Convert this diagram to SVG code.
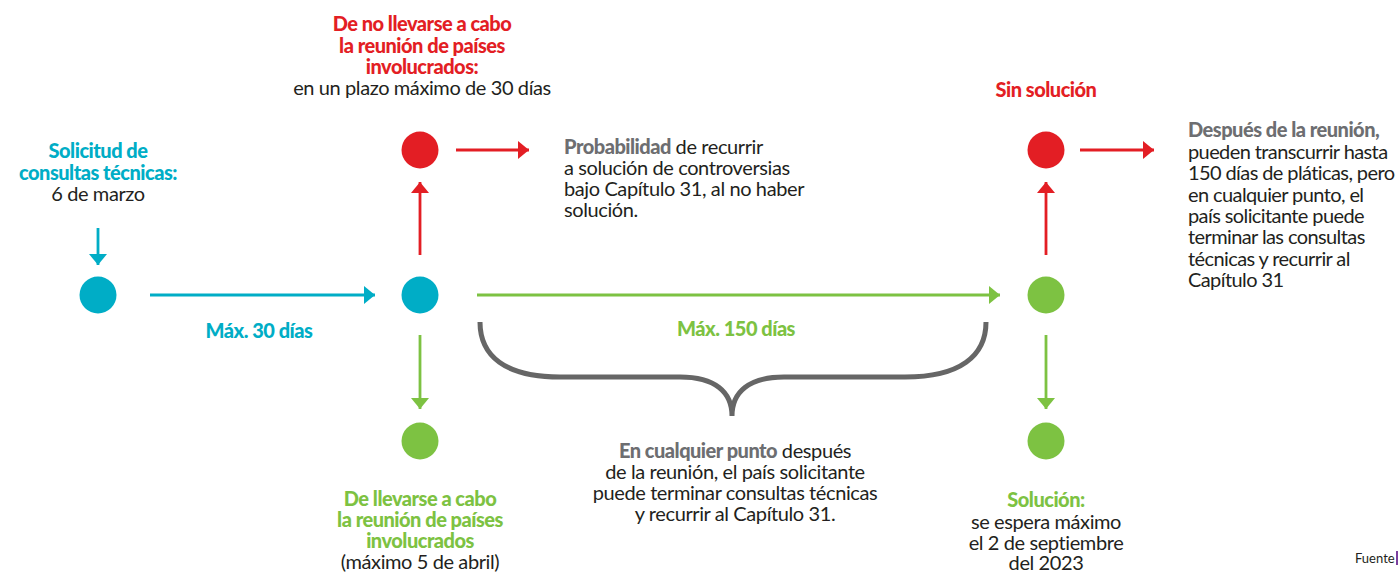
<svg xmlns="http://www.w3.org/2000/svg" width="1400" height="574" viewBox="0 0 1400 574">
<defs>
<style>
text{font-family:Lato,"Open Sans","Liberation Sans",sans-serif;font-size:20px;fill:#231f20;letter-spacing:-0.4px}
.b{font-weight:900;letter-spacing:-0.5px}
.c{fill:#00adc6}.r{fill:#e31e24}.g{fill:#7dc242}.k{fill:#6d6e71}
.m{text-anchor:middle}
.t{letter-spacing:-0.6px}
.lc{stroke:#00adc6;stroke-width:2.8;fill:none}
.lr{stroke:#e31e24;stroke-width:2.8;fill:none}
.lg{stroke:#7dc242;stroke-width:2.8;fill:none}
</style>
<marker id="ac" markerUnits="userSpaceOnUse" markerWidth="12" markerHeight="20" refX="11" refY="9" orient="auto"><path d="M0,0L11,9L0,18z" fill="#00adc6"/></marker>
<marker id="ar" markerUnits="userSpaceOnUse" markerWidth="12" markerHeight="20" refX="11" refY="9" orient="auto"><path d="M0,0L11,9L0,18z" fill="#e31e24"/></marker>
<marker id="ag" markerUnits="userSpaceOnUse" markerWidth="12" markerHeight="20" refX="11" refY="9" orient="auto"><path d="M0,0L11,9L0,18z" fill="#7dc242"/></marker>
</defs>
<rect width="1400" height="574" fill="#fff"/>
<g id="connectors">
<line class="lc" x1="98" y1="228" x2="98" y2="265" marker-end="url(#ac)"/>
<line class="lc" x1="150" y1="295" x2="375" y2="295" marker-end="url(#ac)"/>
<line class="lr" x1="420" y1="255" x2="420" y2="182" marker-end="url(#ar)"/>
<line class="lr" x1="456" y1="150" x2="529" y2="150" marker-end="url(#ar)"/>
<line class="lg" x1="420" y1="335" x2="420" y2="409" marker-end="url(#ag)"/>
<line class="lg" x1="477" y1="295" x2="1000" y2="295" marker-end="url(#ag)"/>
<line class="lr" x1="1046" y1="255" x2="1046" y2="182" marker-end="url(#ar)"/>
<line class="lr" x1="1080" y1="150" x2="1154" y2="150" marker-end="url(#ar)"/>
<line class="lg" x1="1046" y1="335" x2="1046" y2="409" marker-end="url(#ag)"/>
<text class="b c m" x="259" y="338">Máx. 30 días</text>
<text class="b g m" x="736" y="336">Máx. 150 días</text>
</g>
<g id="brace">
<path d="M480,322 C480,356 505,377 560,377 L680,377 C715,377 732,392 732,416 C732,392 749,377 784,377 L905,377 C960,377 986,356 986,322" fill="none" stroke="#666" stroke-width="5"/>
</g>
<g id="start">
<circle cx="98" cy="295" r="18.5" fill="#00adc6"/>
<text class="b c m" x="98" y="158">Solicitud de</text>
<text class="b c m" x="98" y="180">consultas técnicas:</text>
<text class="m" x="98" y="201">6 de marzo</text>
</g>
<g id="meeting">
<circle cx="420" cy="295" r="18.5" fill="#00adc6"/>
</g>
<g id="no-meeting">
<circle cx="420" cy="150" r="18.5" fill="#e31e24"/>
<text class="b r m" x="422" y="31">De no llevarse a cabo</text>
<text class="b r m" x="422" y="53">la reunión de países</text>
<text class="b r m" x="422" y="74">involucrados:</text>
<text class="m" x="422" y="95">en un plazo máximo de 30 días</text>
</g>
<g id="probabilidad">
<text x="564" y="154"><tspan class="b k">Probabilidad</tspan> de recurrir</text>
<text x="564" y="175">a solución de controversias</text>
<text x="564" y="196">bajo Capítulo 31, al no haber</text>
<text x="564" y="217">solución.</text>
</g>
<g id="meeting-held">
<circle cx="420" cy="441" r="18.5" fill="#7dc242"/>
<text class="b g m" x="420" y="506">De llevarse a cabo</text>
<text class="b g m" x="420" y="527">la reunión de países</text>
<text class="b g m" x="420" y="548">involucrados</text>
<text class="m" x="420" y="569">(máximo 5 de abril)</text>
</g>
<g id="any-point">
<text class="m" x="735" y="458"><tspan class="b k">En cualquier punto</tspan> después</text>
<text class="m" x="735" y="479">de la reunión, el país solicitante</text>
<text class="m" x="735" y="500">puede terminar consultas técnicas</text>
<text class="m" x="735" y="521">y recurrir al Capítulo 31.</text>
</g>
<g id="after">
<circle cx="1046" cy="295" r="18.5" fill="#7dc242"/>
</g>
<g id="sin-solucion">
<circle cx="1046" cy="150" r="18.5" fill="#e31e24"/>
<text class="b r m" x="1046" y="97">Sin solución</text>
</g>
<g id="despues">
<text x="1188" y="137"><tspan class="b k">Después de la reunión,</tspan></text>
<text class="t" x="1188" y="159">pueden transcurrir hasta</text>
<text class="t" x="1188" y="180">150 días de pláticas, pero</text>
<text class="t" x="1188" y="202">en cualquier punto, el</text>
<text class="t" x="1188" y="223">país solicitante puede</text>
<text class="t" x="1188" y="244">terminar las consultas</text>
<text class="t" x="1188" y="266">técnicas y recurrir al</text>
<text class="t" x="1188" y="287">Capítulo 31</text>
</g>
<g id="solucion">
<circle cx="1046" cy="441" r="18.5" fill="#7dc242"/>
<text class="b g m" x="1046" y="507">Solución:</text>
<text class="m" x="1046" y="529">se espera máximo</text>
<text class="m" x="1046" y="550">el 2 de septiembre</text>
<text class="m" x="1046" y="570">del 2023</text>
</g>
<g id="fuente">
<text x="1355" y="563" style="font-size:13px;letter-spacing:0">Fuente</text>
<rect x="1396" y="551" width="2" height="14" fill="#7b3f9e"/>
</g>
</svg>
